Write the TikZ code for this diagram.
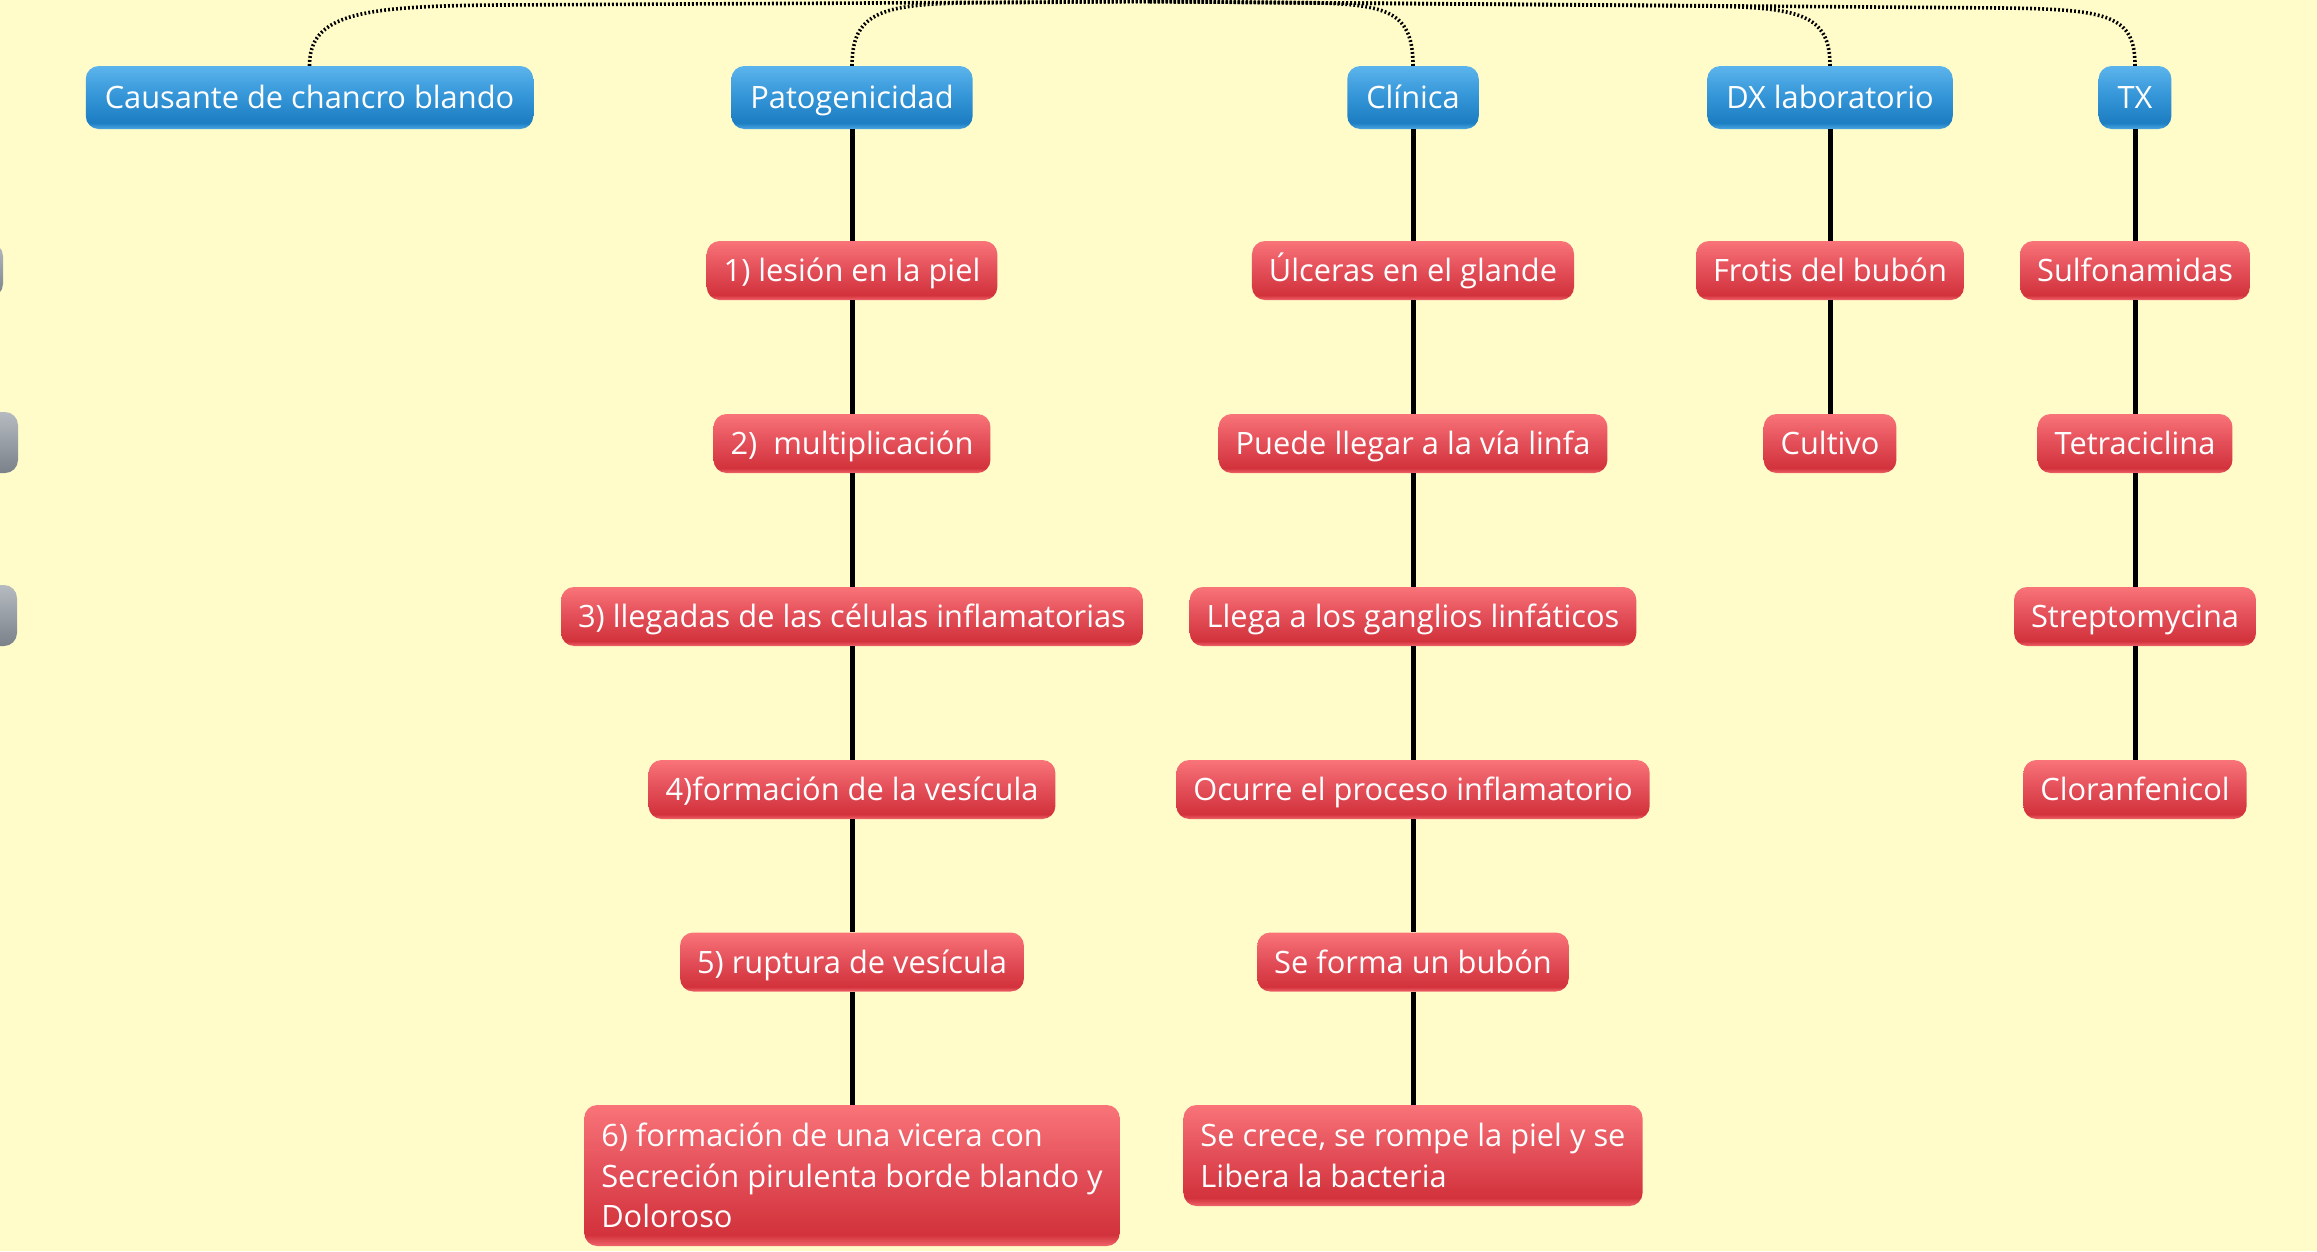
\documentclass[tikz,border=0pt]{standalone}
\usepackage{fontspec}
\setmainfont{Open Sans}
\definecolor{bg}{HTML}{FFFCC9}
\definecolor{rtop}{HTML}{F97479}
\definecolor{rmid}{HTML}{E4505A}
\definecolor{rdark}{HTML}{D2323B}
\definecolor{rbot}{HTML}{F0656C}
\definecolor{btop}{HTML}{5CB4EC}
\definecolor{bmid}{HTML}{3596D8}
\definecolor{bdark}{HTML}{1C7DC2}
\definecolor{bbot}{HTML}{4AA6E2}
\definecolor{gtop}{HTML}{B6BBC1}
\definecolor{gbot}{HTML}{7A8189}
\pgfdeclareverticalshading{redsh}{100bp}{color(0bp)=(rbot); color(25bp)=(rbot); color(29bp)=(rdark); color(52bp)=(rmid); color(75bp)=(rtop); color(100bp)=(rtop)}
\pgfdeclareverticalshading{bluesh}{100bp}{color(0bp)=(bbot); color(25bp)=(bbot); color(30bp)=(bdark); color(52bp)=(bmid); color(75bp)=(btop); color(100bp)=(btop)}
\pgfdeclareverticalshading{greysh}{100bp}{color(0bp)=(gbot); color(25bp)=(gbot); color(75bp)=(gtop); color(100bp)=(gtop)}
\tikzset{
  box/.style={rectangle, rounded corners=13, inner xsep=17, inner ysep=6, text=white,
    font=\fontsize{30.8}{40.5}\selectfont},
  one/.style={text height=25.5, text depth=3.5},
  topic/.style={box, one, inner xsep=19, shading=bluesh, minimum height=63},
  sub/.style={box, one, shading=redsh, minimum height=59},
  multi/.style={box, shading=redsh, align=left},
  grey/.style={rectangle, rounded corners=13, shading=greysh, minimum width=100},
  link/.style={line width=5, black},
  dotline/.style={line width=3.6, black, dash pattern=on 1.8pt off 2.2pt},
}
\begin{document}
\begin{tikzpicture}[x=1pt,y=-1pt]
\useasboundingbox (0,0) rectangle (2317,1251);
\fill[bg] (0,0) rectangle (2317,1251);
\coordinate (hub) at (1150,1.5);
% grey partial nodes
\node[grey, minimum height=54] (g1) at (-47,270) {};
\node[grey, minimum height=61] (g2) at (-32,442.5) {};
\node[grey, minimum height=61] (g3) at (-33,615.5) {};
% top nodes
\node[topic] (t1) at (309.5,97.5) {Causante de chancro blando};
\node[topic] (t2) at (852,97.5) {Patogenicidad};
\node[topic] (t3) at (1413,97.5) {Clínica};
\node[topic] (t4) at (1830,97.5) {DX laboratorio};
\node[topic] (t5) at (2135,97.5) {TX};
% dotted connectors to the central topic above
\draw[dotline] (t1.north) .. controls (309.5,14) and (360,6) .. (500,5) -- (hub);
\draw[dotline] (t2.north) .. controls (852,14) and (880,5) .. (960,3) -- (hub);
\draw[dotline] (t3.north) .. controls (1413,14) and (1390,5) .. (1320,3) -- (hub);
\draw[dotline] (t4.north) .. controls (1830,14) and (1800,7) .. (1700,6) -- (hub);
\draw[dotline] (t5.north) .. controls (2135,16) and (2110,9) .. (2000,8) -- (hub);
% Patogenicidad column
\node[sub] (p1) at (852,270.5) {1) lesión en la piel};
\node[sub] (p2) at (852,443.5) {2)\ \ multiplicación};
\node[sub] (p3) at (852,616.5) {3) llegadas de las células inflamatorias};
\node[sub] (p4) at (852,789.5) {4)formación de la vesícula};
\node[sub] (p5) at (852,962) {5) ruptura de vesícula};
\node[multi, minimum height=141] (p6) at (852,1175.5) {6) formación de una vicera con\\Secreción pirulenta borde blando y\\Doloroso};
% Clinica column
\node[sub] (c1) at (1413,270.5) {Úlceras en el glande};
\node[sub] (c2) at (1413,443.5) {Puede llegar a la vía linfa};
\node[sub] (c3) at (1413,616.5) {Llega a los ganglios linfáticos};
\node[sub] (c4) at (1413,789.5) {Ocurre el proceso inflamatorio};
\node[sub] (c5) at (1413,962) {Se forma un bubón};
\node[multi, minimum height=101] (c6) at (1413,1155.5) {Se crece, se rompe la piel y se\\Libera la bacteria};
% DX column
\node[sub] (d1) at (1830,270.5) {Frotis del bubón};
\node[sub] (d2) at (1830,443.5) {Cultivo};
% TX column
\node[sub] (x1) at (2135,270.5) {Sulfonamidas};
\node[sub] (x2) at (2135,443.5) {Tetraciclina};
\node[sub] (x3) at (2135,616.5) {Streptomycina};
\node[sub] (x4) at (2135,789.5) {Cloranfenicol};
% connectors
\draw[link] (t2) -- (p1); \draw[link] (p1) -- (p2); \draw[link] (p2) -- (p3);
\draw[link] (p3) -- (p4); \draw[link] (p4) -- (p5); \draw[link] (p5) -- (p6);
\draw[link] (t3) -- (c1); \draw[link] (c1) -- (c2); \draw[link] (c2) -- (c3);
\draw[link] (c3) -- (c4); \draw[link] (c4) -- (c5); \draw[link] (c5) -- (c6);
\draw[link] (t4) -- (d1); \draw[link] (d1) -- (d2);
\draw[link] (t5) -- (x1); \draw[link] (x1) -- (x2); \draw[link] (x2) -- (x3); \draw[link] (x3) -- (x4);
\end{tikzpicture}
\end{document}
